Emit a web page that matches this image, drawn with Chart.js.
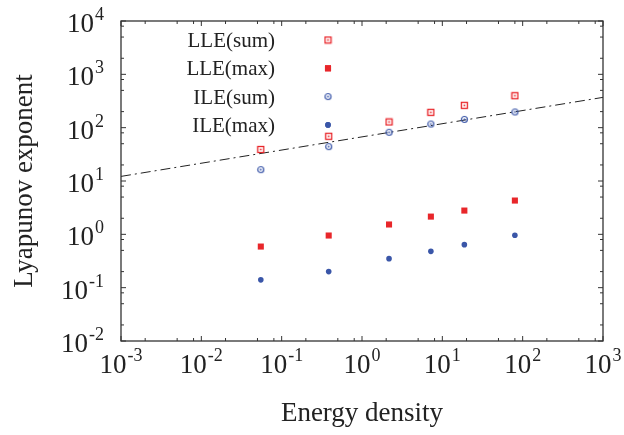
<!DOCTYPE html>
<html lang="en">
<head>
    <meta charset="UTF-8">
    <title>Lyapunov exponent vs energy density</title>
    <style>
        body {
            margin: 0;
            background: #fff;
        }
        .chart-container {
            width: 624px;
            height: 435px;
            position: relative;
        }
    </style>
</head>
<body>
    <div class="chart-container">
        <canvas id="myChart"></canvas>
    </div>

    <script src="https://cdn.jsdelivr.net/npm/chart.js@4.4.1/dist/chart.umd.min.js"></script>
    <script>
        // Datos
        const energyDensity = [0.055, 0.385, 2.17, 7.2, 18.8, 80];
        const lleSum = [39, 69, 128, 194, 262, 397];
        const lleMax = [0.59, 0.95, 1.53, 2.15, 2.79, 4.3];
        const ileSum = [16.3, 44, 82, 117, 143, 197];
        const ileMax = [0.14, 0.20, 0.35, 0.48, 0.64, 0.96];
        const fitX = [0.001, 1000];
        const fitY = [12.2, 370];
        const seriesNames = ['LLE(sum)', 'LLE(max)', 'ILE(sum)', 'ILE(max)'];
        const xTickExp = ['-3', '-2', '-1', '0', '1', '2', '3'];
        const yTickExp = ['-2', '-1', '0', '1', '2', '3', '4'];

        const RED = '#e8262a';
        const BLUE = '#3a56a8';
        const FONT = '"Liberation Serif", "Times New Roman", serif';

        // marcadores huecos con punto central
        function openSquare(color) {
            const c = document.createElement('canvas');
            c.width = 9; c.height = 9;
            const g = c.getContext('2d');
            g.strokeStyle = color;
            g.lineWidth = 1.3;
            g.strokeRect(1.5, 1.5, 6, 6);
            g.fillStyle = color;
            g.fillRect(3.7, 3.7, 1.6, 1.6);
            return c;
        }
        function openCircle(color) {
            const c = document.createElement('canvas');
            c.width = 9; c.height = 9;
            const g = c.getContext('2d');
            g.strokeStyle = color;
            g.lineWidth = 1.2;
            g.beginPath();
            g.arc(4.5, 4.5, 3, 0, Math.PI * 2);
            g.stroke();
            g.fillStyle = color;
            g.beginPath();
            g.arc(4.5, 4.5, 0.9, 0, Math.PI * 2);
            g.fill();
            return c;
        }

        const toPts = (ys) => ys.map((y, i) => ({ x: energyDensity[i], y: y }));

        const datasets = [
            { label: seriesNames[0], data: toPts(lleSum), pointStyle: openSquare(RED), pointRadius: 4.5, showLine: false, borderColor: RED, backgroundColor: RED },
            { label: seriesNames[1], data: toPts(lleMax), pointStyle: 'rect', pointRadius: 4.3, pointBorderWidth: 0, showLine: false, borderColor: RED, backgroundColor: RED },
            { label: seriesNames[2], data: toPts(ileSum), pointStyle: openCircle(BLUE), pointRadius: 4.5, showLine: false, borderColor: BLUE, backgroundColor: BLUE },
            { label: seriesNames[3], data: toPts(ileMax), pointStyle: 'circle', pointRadius: 2.8, pointBorderWidth: 0, showLine: false, borderColor: BLUE, backgroundColor: BLUE },
            { label: 'fit', data: fitX.map((x, i) => ({ x: x, y: fitY[i] })), showLine: true, pointRadius: 0, borderColor: '#222', borderWidth: 1, borderDash: [10, 4, 2, 4], fill: false }
        ];

        function sup(ctx, base, exp, x, y, align, big, small) {
            ctx.font = big + 'px ' + FONT;
            const wb = ctx.measureText(base).width;
            ctx.font = small + 'px ' + FONT;
            const we = ctx.measureText(exp).width;
            const w = wb + we + 1;
            let left = x - w / 2;
            if (align === 'right') left = x - w;
            ctx.textAlign = 'left';
            ctx.textBaseline = 'alphabetic';
            ctx.font = big + 'px ' + FONT;
            ctx.fillText(base, left, y);
            ctx.font = small + 'px ' + FONT;
            ctx.fillText(exp, left + wb + 1, y - 12);
        }

        const frame = {
            id: 'frame',
            afterDatasetsDraw(chart) {
                const { ctx, chartArea: a } = chart;
                const xs = chart.scales.x, ys = chart.scales.y;
                ctx.save();
                ctx.strokeStyle = '#333';
                ctx.lineWidth = 1.3;
                ctx.strokeRect(a.left, a.top, a.right - a.left, a.bottom - a.top);

                // marcas hacia dentro en los cuatro lados
                ctx.lineWidth = 1;
                ctx.beginPath();
                for (let e = -3; e <= 3; e++) {
                    [1, 2, 5, 8].forEach(m => {
                        const v = m * Math.pow(10, e);
                        if (v > 1000) return;
                        const px = xs.getPixelForValue(v);
                        const len = m === 1 ? 5 : 3;
                        ctx.moveTo(px, a.bottom); ctx.lineTo(px, a.bottom - len);
                        ctx.moveTo(px, a.top); ctx.lineTo(px, a.top + len);
                    });
                }
                for (let e = -2; e <= 4; e++) {
                    [1, 2, 5, 8].forEach(m => {
                        const v = m * Math.pow(10, e);
                        if (v > 10000) return;
                        const py = ys.getPixelForValue(v);
                        const len = m === 1 ? 5 : 3;
                        ctx.moveTo(a.left, py); ctx.lineTo(a.left + len, py);
                        ctx.moveTo(a.right, py); ctx.lineTo(a.right - len, py);
                    });
                }
                ctx.stroke();

                ctx.fillStyle = '#222';
                xTickExp.forEach(e => {
                    const px = xs.getPixelForValue(Math.pow(10, +e));
                    sup(ctx, '10', e, px, 373, 'center', 27, 18);
                });
                yTickExp.forEach(e => {
                    const py = ys.getPixelForValue(Math.pow(10, +e));
                    sup(ctx, '10', e, 104, py + 11, 'right', 27, 18);
                });

                // titulos de ejes
                ctx.font = '27px ' + FONT;
                ctx.textAlign = 'center';
                ctx.fillText('Energy density', (a.left + a.right) / 2, 421);
                ctx.translate(32, (a.top + a.bottom) / 2);
                ctx.rotate(-Math.PI / 2);
                ctx.fillText('Lyapunov exponent', 0, 0);
                ctx.restore();

                // leyenda
                ctx.save();
                ctx.font = '21px ' + FONT;
                ctx.textAlign = 'right';
                for (let i = 0; i < 4; i++) {
                    const ds = chart.data.datasets[i];
                    const y = 40 + i * 28.3;
                    ctx.fillStyle = '#222';
                    ctx.fillText(ds.label, 275, y + 7);
                    ctx.fillStyle = ds.backgroundColor;
                    ctx.strokeStyle = ds.borderColor;
                    Chart.helpers.drawPoint(ctx, {
                        pointStyle: ds.pointStyle,
                        radius: ds.pointRadius,
                        borderWidth: 0
                    }, 328, y);
                    if (typeof ds.pointStyle === 'string') ctx.fill();
                }
                ctx.restore();
            }
        };

        document.addEventListener('DOMContentLoaded', function() {
            const ctx = document.getElementById('myChart');
            new Chart(ctx, {
                type: 'scatter',
                data: { datasets: datasets },
                options: {
                    responsive: true,
                    maintainAspectRatio: false,
                    animation: false,
                    clip: false,
                    layout: { padding: { left: 121, top: 21, right: 21, bottom: 94 } },
                    plugins: { legend: { display: false }, tooltip: { enabled: false } },
                    scales: {
                        x: { type: 'logarithmic', min: 0.001, max: 1000, display: false },
                        y: { type: 'logarithmic', min: 0.01, max: 10000, display: false }
                    }
                },
                plugins: [frame]
            });
        });
    </script>
</body>
</html>
